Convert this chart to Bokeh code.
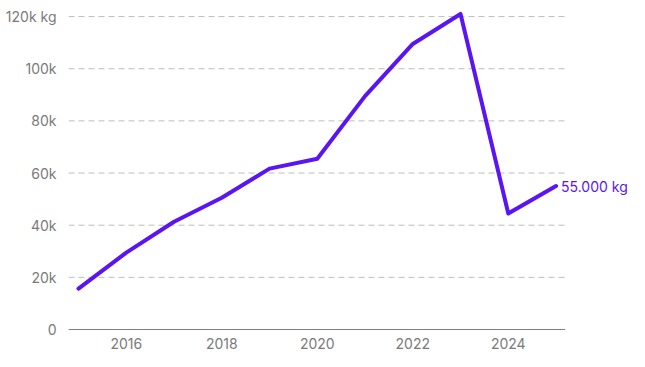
from bokeh.plotting import figure
from bokeh.models import FixedTicker, Range1d, ColumnDataSource
from bokeh.core.properties import value
from bokeh.embed import file_html
from bokeh.resources import INLINE

years = [2015, 2016, 2017, 2018, 2019, 2020, 2021, 2022, 2023, 2024, 2025]
weights = [15700, 29500, 41300, 50500, 61700, 65500, 89500, 109500, 121000, 44500, 55000]
y_ticks = [0, 20000, 40000, 60000, 80000, 100000, 120000]
y_tick_labels = ["0", "20k", "40k", "60k", "80k", "100k", "120k kg"]
x_ticks = [2016, 2018, 2020, 2022, 2024]
end_label = "55.000 kg"

FONT = "Inter"
LINE_COLOR = "#5b14f2"
GRAY = "#7a7a7a"

X_START = 2014.79
X_AXIS_END = 2025.19   # where axis line and grid stop
X_END = 2026.706       # extra room for the end label

p = figure(width=637, height=359, output_backend="svg", toolbar_location=None,
           x_range=Range1d(X_START, X_END), y_range=Range1d(0, 123100),
           min_border_left=68, min_border_right=0, min_border_top=8, min_border_bottom=30)
p.outline_line_color = None

# grid lines (dashed) and baseline, stopping at the end of the data area
grid_src = ColumnDataSource(dict(y=y_ticks[1:]))
p.segment(x0=X_START, x1=X_AXIS_END, y0="y", y1="y", source=grid_src,
          line_color="#bdbdbd", line_dash="6 4", line_width=1)
p.segment(x0=[X_START], x1=[X_AXIS_END], y0=[y_ticks[0]], y1=[y_ticks[0]],
          line_color="black", line_width=1)

src = ColumnDataSource(dict(x=years, y=weights))
p.line("x", "y", source=src, line_color=LINE_COLOR, line_width=4,
       line_join="round", line_cap="round")

p.text(x=[years[-1]], y=[weights[-1]], text=[end_label], x_offset=5,
       text_align="left", text_baseline="middle", text_color=LINE_COLOR,
       text_font=value(FONT), text_font_size="14px")

# axes
p.yaxis.ticker = FixedTicker(ticks=y_ticks)
p.yaxis.major_label_overrides = {t: l for t, l in zip(y_ticks, y_tick_labels)}
p.yaxis.axis_line_color = None
p.yaxis.major_tick_line_color = None
p.yaxis.minor_tick_line_color = None
p.yaxis.major_label_standoff = 6
p.yaxis.major_label_text_color = GRAY
p.yaxis.major_label_text_font = FONT
p.yaxis.major_label_text_font_size = "14px"

p.xaxis.ticker = FixedTicker(ticks=x_ticks)
p.xaxis.axis_line_color = None
p.xaxis.major_tick_line_color = None
p.xaxis.minor_tick_line_color = None
p.xaxis.major_label_standoff = 2
p.xaxis.major_label_text_color = GRAY
p.xaxis.major_label_text_font = FONT
p.xaxis.major_label_text_font_size = "14px"

p.xgrid.grid_line_color = None
p.ygrid.grid_line_color = None

open("out.html", "w").write(file_html(p, INLINE))
